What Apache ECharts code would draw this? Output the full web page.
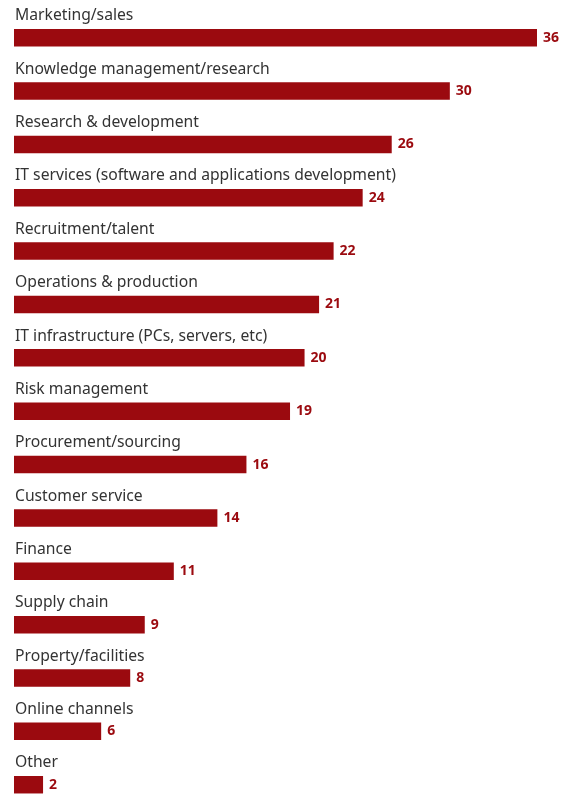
<!DOCTYPE html>
<html>
<head>
<meta charset="utf-8">
<script src="https://cdn.jsdelivr.net/npm/echarts@6/dist/echarts.min.js"></script>
<style>
  html, body { margin: 0; padding: 0; background: #fff; }
  #chart { width: 574px; height: 794px; }
</style>
</head>
<body>
<div id="chart"></div>
<script>
// Share of respondents by business function
const categories = [
  'Marketing/sales',
  'Knowledge management/research',
  'Research & development',
  'IT services (software and applications development)',
  'Recruitment/talent',
  'Operations & production',
  'IT infrastructure (PCs, servers, etc)',
  'Risk management',
  'Procurement/sourcing',
  'Customer service',
  'Finance',
  'Supply chain',
  'Property/facilities',
  'Online channels',
  'Other'
];
const values = [36, 30, 26, 24, 22, 21, 20, 19, 16, 14, 11, 9, 8, 6, 2];

const BAR_RED = '#9b0a0f';
const TEXT_GREY = '#333333';

const chart = echarts.init(document.getElementById('chart'), null, { renderer: 'canvas' });

chart.setOption({
  animation: false,
  // each row is ~53.4px tall; the last row's band runs past the bottom edge
  grid: {
    left: 14, right: 37, top: 11, height: 800.4,
    containLabel: false,
    outerBoundsMode: 'none'
  },
  xAxis: {
    type: 'value', min: 0, max: 36,
    show: false
  },
  yAxis: {
    type: 'category', data: categories, inverse: true,
    show: false
  },
  series: [
    {
      // bars, with the category name written above each one
      type: 'bar',
      data: values,
      barWidth: 17.5,
      itemStyle: { color: BAR_RED },
      label: {
        show: true,
        position: [1, -13],
        verticalAlign: 'middle',
        align: 'left',
        formatter: '{b}',
        fontFamily: 'Noto Sans',
        fontSize: 15.7,
        color: TEXT_GREY
      }
    },
    {
      // invisible twin of the bars carrying the value labels
      type: 'bar',
      data: values,
      barWidth: 17.5,
      barGap: '-100%',
      itemStyle: { color: 'rgba(0,0,0,0)' },
      label: {
        show: true,
        position: 'right',
        distance: 6,
        formatter: '{c}',
        fontFamily: 'Noto Sans',
        fontWeight: 'bold',
        fontSize: 14,
        color: BAR_RED
      }
    }
  ]
});
</script>
</body>
</html>
